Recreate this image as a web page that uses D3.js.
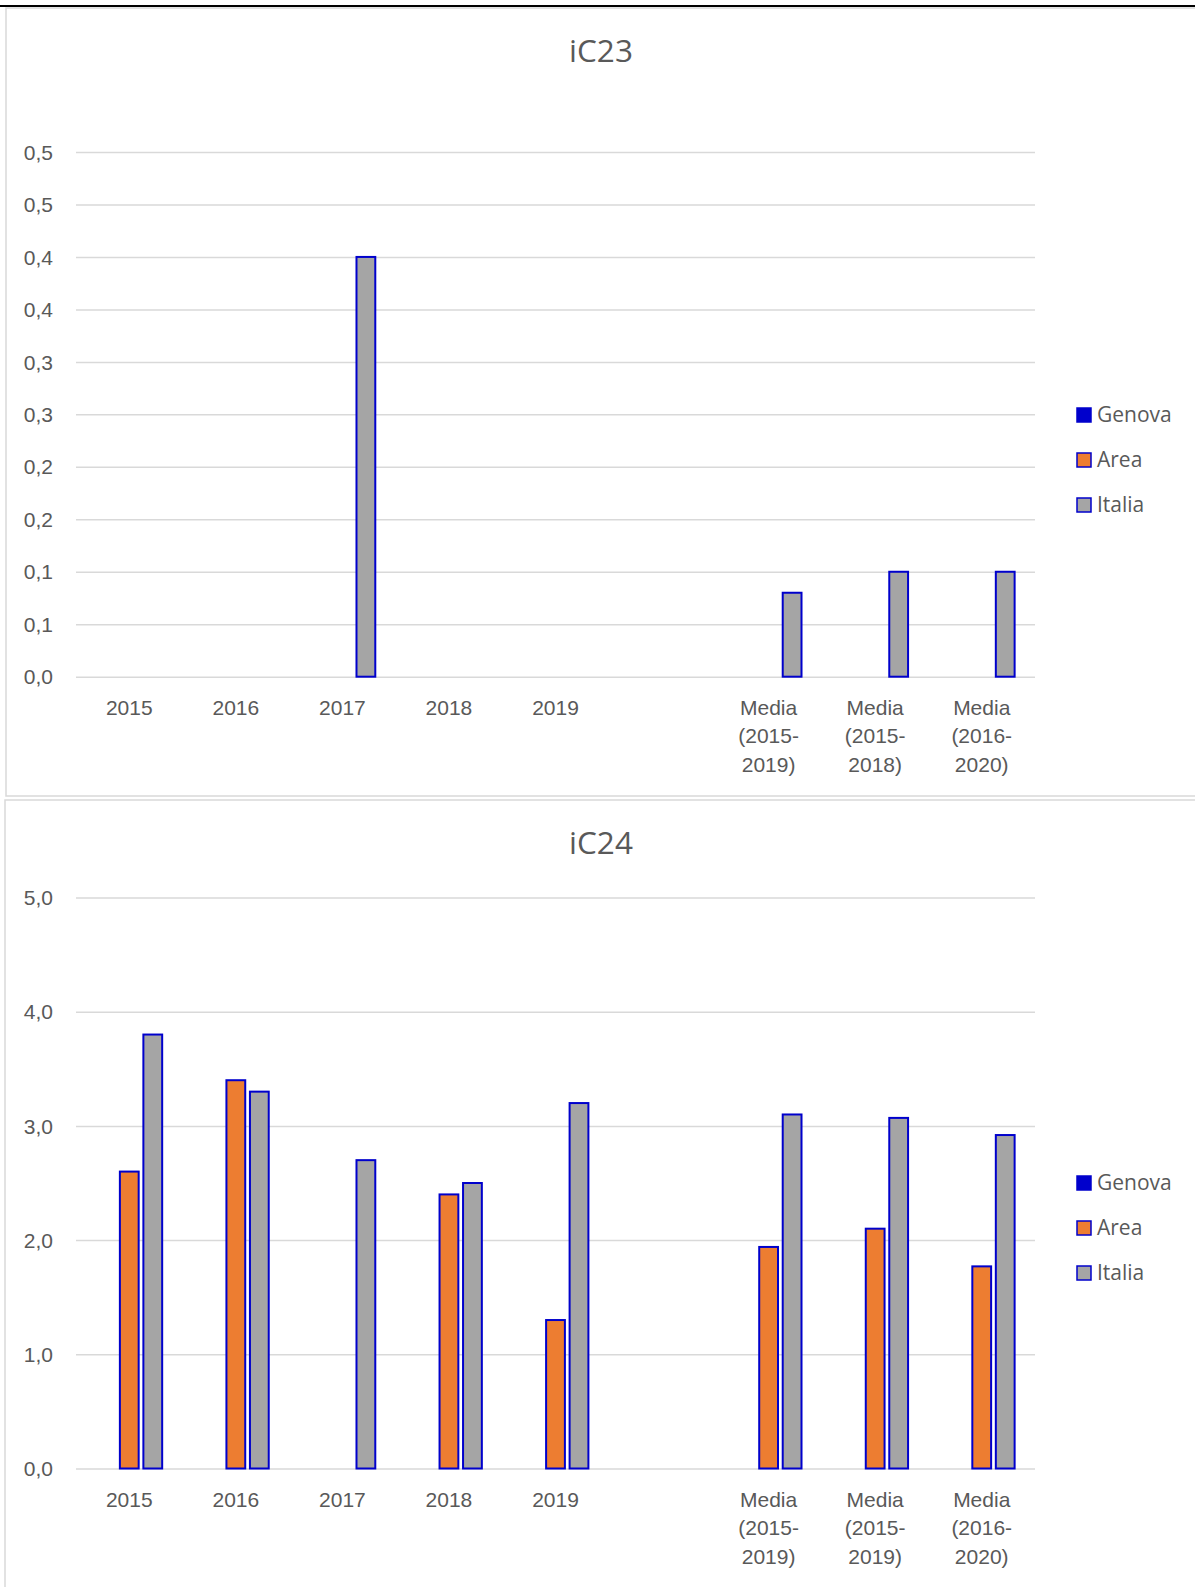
<!DOCTYPE html>
<html>
<head>
<meta charset="utf-8">
<script src="https://cdn.jsdelivr.net/npm/d3@7"></script>
<style>
  body { margin: 0; background: #fff; }
  svg { display: block; font-family: "Open Sans", "Noto Sans", sans-serif; }
  .tick line { stroke: #d9d9d9; stroke-width: 1.5; }
  .tick text { fill: #595959; font-size: 21px; }
</style>
</head>
<body>
<script>
// categories (index based, the 6th slot is an empty gap category)
const cat23 = ["2015", "2016", "2017", "2018", "2019", "", "Media|(2015-|2019)", "Media|(2015-|2018)", "Media|(2016-|2020)"];
const cat24 = ["2015", "2016", "2017", "2018", "2019", "", "Media|(2015-|2019)", "Media|(2015-|2019)", "Media|(2016-|2020)"];

const seriesNames = ["Genova", "Area", "Italia"];
const seriesColors = ["#0000cc", "#ed7d31", "#a5a5a5"];

// iC23
const genova23 = [null, null, null, null, null, null, null, null, null];
const area23   = [null, null, null, null, null, null, null, null, null];
const italia23 = [null, null, 0.4, null, null, null, 0.08, 0.1, 0.1];
const ticks23  = [0, 0.05, 0.1, 0.15, 0.2, 0.25, 0.3, 0.35, 0.4, 0.45, 0.5];
const tickLabels23 = ["0,0", "0,1", "0,1", "0,2", "0,2", "0,3", "0,3", "0,4", "0,4", "0,5", "0,5"];

// iC24
const genova24 = [null, null, null, null, null, null, null, null, null];
const area24   = [2.6, 3.4, null, 2.4, 1.3, null, 1.94, 2.1, 1.77];
const italia24 = [3.8, 3.3, 2.7, 2.5, 3.2, null, 3.1, 3.07, 2.92];
const ticks24  = [0, 1, 2, 3, 4, 5];
const tickLabels24 = ["0,0", "1,0", "2,0", "3,0", "4,0", "5,0"];

const W = 1195, H = 1587;
const svg = d3.select("body").append("svg").attr("width", W).attr("height", H);

// panel frames
svg.append("rect").attr("x", 6).attr("y", 8).attr("width", 1200).attr("height", 788)
   .attr("fill", "#fff").attr("stroke", "#d9d9d9").attr("stroke-width", 1.5);
svg.append("rect").attr("x", 5).attr("y", 800).attr("width", 1200).attr("height", 800)
   .attr("fill", "#fff").attr("stroke", "#d9d9d9").attr("stroke-width", 1.5);
svg.append("rect").attr("x", 0).attr("y", 5).attr("width", W).attr("height", 2).attr("fill", "#000");

function drawChart(opt) {
  const g = svg.append("g");
  const x = d3.scaleBand().domain(d3.range(opt.cats.length)).range([76, 1035]);
  const x1 = d3.scaleBand().domain(seriesNames).range([-35.25, 35.25]).paddingInner(0.2).paddingOuter(0.1);
  const y = d3.scaleLinear().domain([0, d3.max(opt.ticks)]).range([opt.y0, opt.y1]);

  // title
  g.append("text").attr("x", 601).attr("y", opt.titleY).attr("text-anchor", "middle")
   .attr("fill", "#595959").style("font-size", "31.5px").text(opt.title);

  // y axis with gridlines
  const yAxis = g.append("g").attr("transform", "translate(76,0)")
    .call(d3.axisLeft(y).tickValues(opt.ticks).tickSize(-959).tickPadding(23)
      .tickFormat((d, i) => opt.tickLabels[i]));
  yAxis.select(".domain").remove();
  yAxis.selectAll("text").attr("dy", "0.34em");

  // bars
  const data = [opt.genova, opt.area, opt.italia];
  data.forEach((vals, s) => {
    g.append("g").selectAll("rect")
      .data(vals.map((v, i) => ({ v, i })).filter(d => d.v != null))
      .enter().append("rect")
      .attr("x", d => x(d.i) + x.bandwidth() / 2 + x1(seriesNames[s]))
      .attr("width", x1.bandwidth())
      .attr("y", d => y(d.v))
      .attr("height", d => y(0) - y(d.v))
      .attr("fill", seriesColors[s])
      .attr("stroke", "#0000cc").attr("stroke-width", 2);
  });

  // x axis labels
  const xAxis = g.append("g").attr("transform", `translate(0,${opt.y0})`)
    .call(d3.axisBottom(x).tickSize(0).tickFormat(""));
  xAxis.select(".domain").remove();
  xAxis.selectAll(".tick").each(function (i) {
    const t = d3.select(this).append("text").attr("text-anchor", "middle").attr("y", 38);
    opt.cats[i].split("|").forEach((line, k) => {
      t.append("tspan").attr("x", 0).attr("y", 38 + k * 28.7).text(line);
    });
  });

  // legend
  seriesNames.forEach((name, s) => {
    const ly = opt.legendY + s * 45;
    g.append("rect").attr("x", 1077).attr("y", ly - 7).attr("width", 14).attr("height", 14)
     .attr("fill", seriesColors[s]).attr("stroke", "#0000cc").attr("stroke-width", 1.5);
    g.append("text").attr("x", 1097).attr("y", ly).attr("dy", "0.35em")
     .attr("fill", "#595959").style("font-size", "21px").text(name);
  });
}

drawChart({ title: "iC23", titleY: 62, cats: cat23, y0: 676.7, y1: 152,
  ticks: ticks23, tickLabels: tickLabels23,
  genova: genova23, area: area23, italia: italia23, legendY: 415 });

drawChart({ title: "iC24", titleY: 854, cats: cat24, y0: 1468.5, y1: 897.5,
  ticks: ticks24, tickLabels: tickLabels24,
  genova: genova24, area: area24, italia: italia24, legendY: 1183 });
</script>
</body>
</html>
